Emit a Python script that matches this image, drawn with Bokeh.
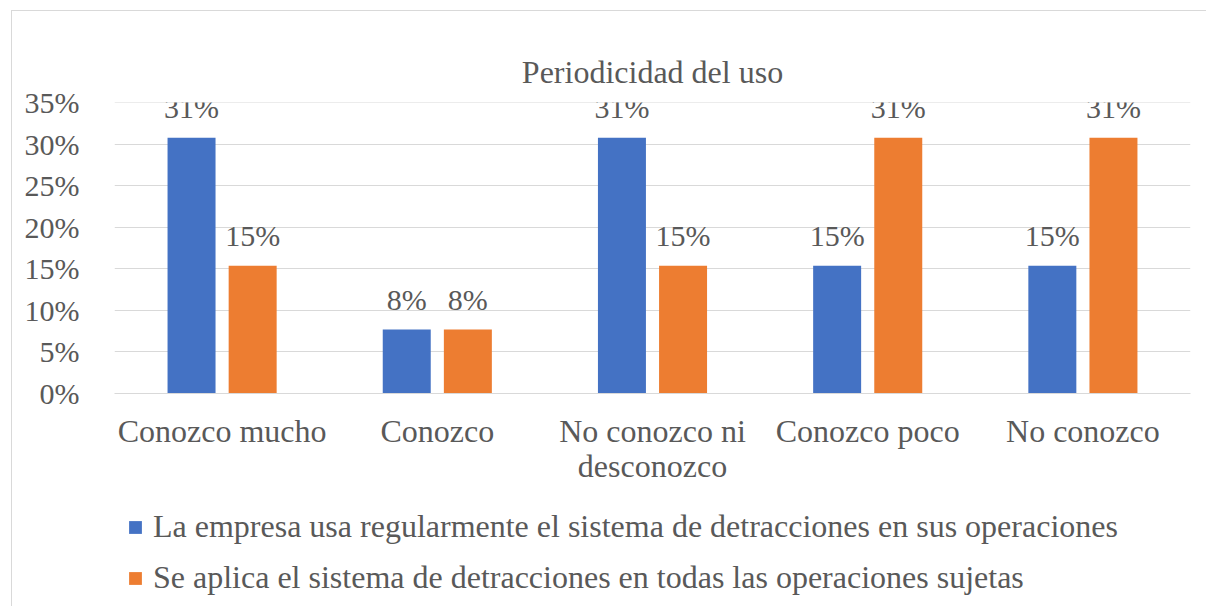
from bokeh.plotting import figure
from bokeh.layouts import column
from bokeh.models import (ColumnDataSource, FactorRange, LabelSet, Legend, LegendItem,
                          NumeralTickFormatter, SingleIntervalTicker, Range1d)
from bokeh.transform import dodge
from bokeh.embed import file_html
from bokeh.resources import INLINE

categories = ["Conozco mucho", "Conozco", "No conozco ni\ndesconozco", "Conozco poco", "No conozco"]
empresa_usa = [0.3077, 0.0769, 0.3077, 0.1538, 0.1538]
se_aplica = [0.1538, 0.0769, 0.1538, 0.3077, 0.3077]
series_names = ["La empresa usa regularmente el sistema de detracciones en sus operaciones",
                "Se aplica el sistema de detracciones en todas las operaciones sujetas"]
title_text = "Periodicidad del uso"

FONT = "Liberation Serif"
TXT = "#595959"
BLUE = "#4472C4"
ORANGE = "#ED7D31"

src = ColumnDataSource(dict(
    cat=categories,
    a=empresa_usa,
    b=se_aplica,
    a_lbl=[f"{round(v*100)}%" for v in empresa_usa],
    b_lbl=[f"{round(v*100)}%" for v in se_aplica],
))

p = figure(x_range=FactorRange(*categories), y_range=Range1d(0, 0.35000001),
           width=1194, height=490, output_backend="svg", toolbar_location=None,
           min_border_left=102, min_border_right=16, min_border_top=91, min_border_bottom=108)
p.outline_line_color = None

p.title.text = title_text
p.title.align = "center"
p.title.text_font = FONT
p.title.text_font_size = "32px"
p.title.text_font_style = "normal"
p.title.text_color = TXT
p.title.standoff = 26

r1 = p.vbar(x=dodge("cat", -0.142, range=p.x_range), top="a", width=0.223, source=src,
            fill_color=BLUE, line_color=None)
r2 = p.vbar(x=dodge("cat", 0.142, range=p.x_range), top="b", width=0.223, source=src,
            fill_color=ORANGE, line_color=None)

for col, off in (("a", -0.142), ("b", 0.142)):
    ls = LabelSet(x=dodge("cat", off, range=p.x_range), y=col, text=col + "_lbl", source=src,
                  text_align="center", text_baseline="bottom", y_offset=14,
                  text_font=FONT, text_font_size="30px", text_color=TXT)
    p.add_layout(ls)

p.yaxis.ticker = SingleIntervalTicker(interval=0.05)
p.yaxis.formatter = NumeralTickFormatter(format="0%")
p.yaxis.axis_line_color = None
p.yaxis.major_tick_line_color = None
p.yaxis.minor_tick_line_color = None
p.yaxis.major_label_standoff = 29
p.yaxis.major_label_text_font = FONT
p.yaxis.major_label_text_font_size = "30px"
p.yaxis.major_label_text_color = TXT

p.xaxis.axis_line_color = "#d9d9d9"
p.xaxis.axis_line_width = 1
p.xaxis.major_tick_line_color = None
p.xaxis.minor_tick_line_color = None
p.xaxis.major_label_standoff = 13
p.xaxis.major_label_text_font = FONT
p.xaxis.major_label_text_font_size = "32px"
p.xaxis.major_label_text_line_height = 0.98
p.xaxis.major_label_text_color = TXT

p.xgrid.grid_line_color = None
p.ygrid.grid_line_color = "#d9d9d9"
p.ygrid.grid_line_width = 1

# legend panel below the chart (hidden proxy renderers sharing the chart's source)
p2 = figure(width=1194, height=105, output_backend="svg", toolbar_location=None,
            x_axis_location=None, y_axis_location=None, min_border=0)
p2.outline_line_color = None
p2.grid.visible = False
d1 = p2.vbar(x="a", top="a", width=0.01, source=src, fill_color=BLUE, line_color=None, visible=False)
d2 = p2.vbar(x="b", top="b", width=0.01, source=src, fill_color=ORANGE, line_color=None, visible=False)

legend = Legend(items=[LegendItem(label=series_names[0], renderers=[d1]),
                       LegendItem(label=series_names[1], renderers=[d2])],
                location=(13, 10), orientation="vertical",
                glyph_width=16, glyph_height=16, label_standoff=10, spacing=14,
                padding=0, margin=0, border_line_color=None, background_fill_alpha=0,
                inactive_fill_alpha=0,
                label_text_font=FONT, label_text_font_size="32px", label_text_color=TXT)
p2.add_layout(legend, "center")

layout = column(p, p2, spacing=0)
layout.margin = (10, 0, 0, 11)
layout.styles = {"border-left": "1px solid #d9d9d9", "border-top": "1px solid #d9d9d9"}

open("out.html", "w").write(file_html(layout, INLINE))
